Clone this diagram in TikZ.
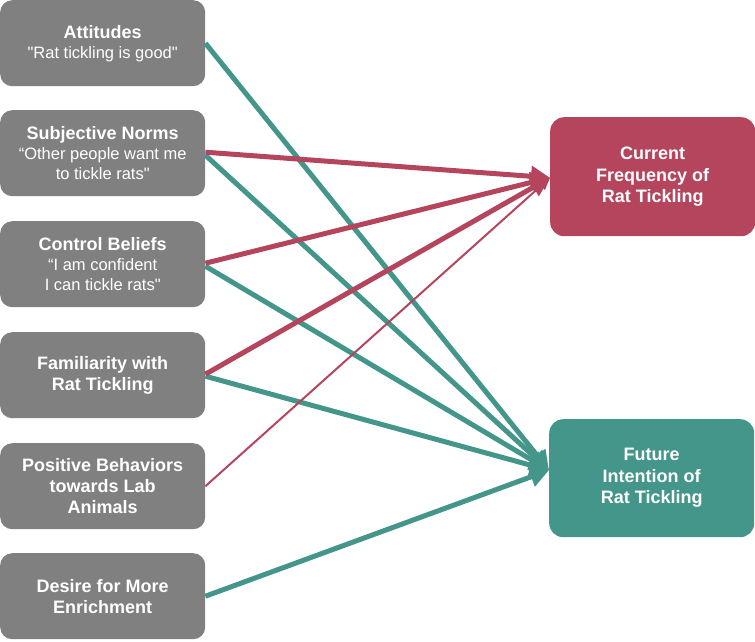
\documentclass[tikz,border=0pt]{standalone}
\usepackage{fontspec}
\setmainfont{Liberation Sans}[Ligatures=TeXOff]
\usetikzlibrary{arrows.meta}
\definecolor{boxgrey}{RGB}{128,128,128}
\definecolor{ratred}{RGB}{180,69,93}
\definecolor{ratteal}{RGB}{67,150,137}
\newcommand{\sq}{\symbol{34}}
\tikzset{
  leftbox/.style={fill=boxgrey, rounded corners=12pt, minimum width=205pt, minimum height=86pt,
    inner sep=0pt, anchor=north west, text=white, align=center, font=\fontsize{18}{21}\selectfont\bfseries},
  rightbox/.style={rounded corners=14pt, minimum width=205pt, minimum height=119pt,
    inner sep=0pt, anchor=north west, text=white, align=center, font=\fontsize{18}{21.5}\selectfont\bfseries},
  redarrow/.style={draw=ratred, line width=5pt, -{Triangle[length=19pt,width=20pt]}},
  tealarrow/.style={draw=ratteal, line width=5pt, -{Triangle[length=19pt,width=20pt]}},
  thinred/.style={draw=ratred, line width=2pt, -{Triangle[length=12pt,width=11pt]}},
}
\begin{document}
\begin{tikzpicture}[x=1pt,y=-1pt]
\useasboundingbox (0,0) rectangle (755,641);
\node[leftbox] (att) at (0,0) {Attitudes\\[-1pt]{\fontsize{16.5}{20}\selectfont\mdseries \sq Rat tickling is good\sq}};
\node[leftbox] (sub) at (0,110) {Subjective Norms\\[-1pt]{\fontsize{16.5}{20}\selectfont\mdseries “Other people want me}\\[-1pt]{\fontsize{16.5}{20}\selectfont\mdseries to tickle rats\sq}};
\node[leftbox] (con) at (0,221) {Control Beliefs\\[-1pt]{\fontsize{16.5}{20}\selectfont\mdseries “I am confident}\\[-1pt]{\fontsize{16.5}{20}\selectfont\mdseries I can tickle rats\sq}};
\node[leftbox] (fam) at (0,332) {Familiarity with\\Rat Tickling};
\node[leftbox] (pos) at (0,443) {Positive Behaviors\\towards Lab\\Animals};
\node[leftbox] (des) at (0,553) {Desire for More\\Enrichment};
\node[rightbox, fill=ratred] (cur) at (550,117) {Current\\Frequency of\\Rat Tickling};
\node[rightbox, fill=ratteal, minimum height=118pt] (fut) at (549,419) {Future\\Intention of\\Rat Tickling};
\coordinate (curtip) at ([yshift=-1pt]cur.west);
\coordinate (futtip) at ([yshift=8pt]fut.west);
% teal connectors
\draw[tealarrow] (att.east) -- (futtip);
\draw[tealarrow] ([yshift=-2pt]sub.east) -- (futtip);
\draw[tealarrow] ([yshift=-2pt]con.east) -- (futtip);
\draw[tealarrow] ([yshift=-1pt]fam.east) -- (futtip);
\draw[tealarrow] (des.east) -- (futtip);
% red connectors
\draw[redarrow] ([yshift=1pt]sub.east) -- (curtip);
\draw[redarrow] ([yshift=1pt]con.east) -- (curtip);
\draw[redarrow] ([yshift=1pt]fam.east) -- (curtip);
\draw[thinred] (pos.east) -- (curtip);
\end{tikzpicture}
\end{document}
